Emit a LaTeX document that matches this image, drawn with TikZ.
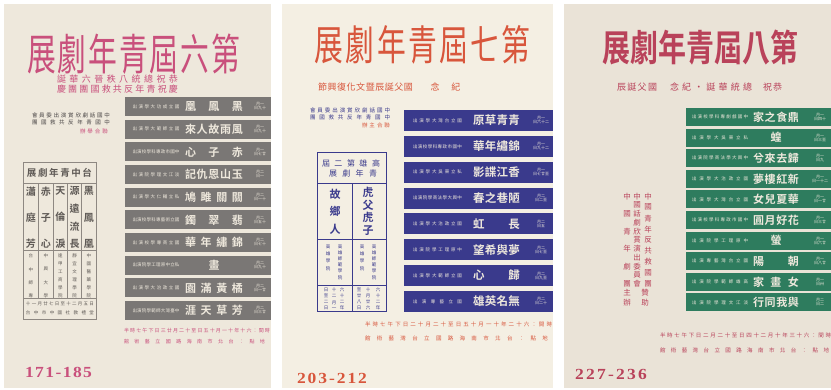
\documentclass[tikz,border=0pt]{standalone}
\usepackage{graphicx}
\usepackage{fontspec}
\setmainfont{Liberation Serif}
\newfontfamily\cjk{Noto Sans CJK TC}
\newfontfamily\cjkb{Noto Sans CJK TC Bold}
\definecolor{bgA}{HTML}{EEE8DC}
\definecolor{bgB}{HTML}{F4EFE3}
\definecolor{bgC}{HTML}{EAE3D7}
\definecolor{pinkA}{HTML}{C9507C}
\definecolor{grayBan}{HTML}{7A7775}
\definecolor{banTxt}{HTML}{EEE8DC}
\definecolor{darkT}{HTML}{4A4646}
\definecolor{tabT}{HTML}{5E5955}
\definecolor{lineA}{HTML}{8E8882}
\definecolor{redB}{HTML}{D8563C}
\definecolor{navy}{HTML}{3A3A8C}
\definecolor{crim}{HTML}{B9425A}
\definecolor{greenC}{HTML}{2E7C5E}
% spread characters across a given width
\def\spr#1#2{\makebox[#1][s]{\expandafter\sprfirst#2\relax}}
\def\sprfirst#1{#1\sprrest}
\def\sprrest#1{\ifx#1\relax\else\hfill#1\expandafter\sprrest\fi}
% vertical text spread across a given height
\def\vspr#1#2{\vbox to #1{\offinterlineskip\expandafter\vsfirst#2\relax}}
\def\vsfirst#1{\hbox to 1em{\hss#1\hss}\vsrest}
\def\vsrest#1{\ifx#1\relax\else\vfill\hbox to 1em{\hss#1\hss}\expandafter\vsrest\fi}
\tikzset{
  txt/.style={inner sep=0pt,outer sep=0pt,anchor=center},
  cj/.style={font=\cjk\fontsize{#1}{#1}\selectfont},
  cjb/.style={font=\cjkb\fontsize{#1}{#1}\selectfont},
  pnum/.style={font=\bfseries\fontsize{14}{14}\selectfont},
}
\begin{document}
\begin{tikzpicture}[x=1pt,y=-1pt]
\useasboundingbox (0,0) rectangle (831,389);
\fill[white] (0,0) rectangle (831,389);
% ---------------- panels
\fill[bgA] (4,4) rectangle (271,388);
\fill[bgB] (282,4) rectangle (553,388);
\fill[bgC] (564,4) rectangle (831,388);

% =============== PANEL 1 (sixth) ===============
\node[txt,cj=36,text=pinkA] (t1) at (133.5,54) {\scalebox{0.8}[1.2]{\spr{266pt}{展劇年青屆六第}}};
\node[txt,cj=9,text=pinkA] (s1a) at (117.5,79) {\spr{121pt}{誕華六晉秩八統總祝恭}};
\node[txt,cj=9,text=pinkA] (s1b) at (117.5,89) {\spr{121pt}{慶團團國救共反年青祝慶}};
\node[txt,cj=5.5,text=darkT] (l1a) at (71,115) {\spr{78pt}{會員委出演賞欣劇話國中}};
\node[txt,cj=5.5,text=darkT] (l1b) at (71,122) {\spr{78pt}{團國救共反年青國中}};
\node[txt,cj=5.5,text=pinkA] (l1c) at (94,131.5) {\spr{28pt}{辦舉合聯}};

\foreach \i/\ti/\sm/\da/\db in {
 0/凰鳳黑/出演學大功成立國/月一/日九十,
 1/來人故雨風/出演學大範師立國/月一/日九十,
 2/心子赤/出演校學科專政市國中/月一/日七廿,
 3/記仇恩山玉/出演院學理文江淡/月二/日一,
 4/鳩雎關關/出演學大仁輔立私/月二/日一十,
 5/鐲翠翡/出演校學科專藝術立國/月二/日五十,
 6/華年繡錦/出演校學專商立國/月二/日七十,
 7/\null 畫\null/出演院學工理原中立私/月二/日九十,
 8/園滿黃橘/出演學大治政立國/月二/日一廿,
 9/涯天草芳/出演院學範師大灣臺中/月二/日三廿}{
 \pgfmathsetmacro\yt{97+22.67*\i}
 \pgfmathsetmacro\yc{\yt+9.5}
 \fill[grayBan] (125,\yt) rectangle (271,\yt+19);
 \node[txt,cjb=11,text=banTxt] (a\i-t) at (214,\yc) {\spr{58pt}{\ti}};
 \node[txt,cj=4.5,text=banTxt] (a\i-s) at (156,\yc) {\spr{47pt}{\sm}};
 \node[txt,cj=4,text=banTxt,align=center] (a\i-d) at (260,\yc) {\da\\\db};
}

% table (Taichung)
\draw[lineA,line width=0.9] (23,162) rectangle (96,319);
\draw[lineA,line width=0.6] (23,183) -- (96,183) (23,250) -- (96,250) (23,298) -- (96,298);
\foreach \xx in {38.3,53.3,67.3,81.7} \draw[lineA,line width=0.6] (\xx,183) -- (\xx,298);
\node[txt,cjb=9.5,text=tabT] (h1) at (59.5,173) {\spr{65pt}{展劇年青中台}};
\foreach \j/\xc/\tt/\sc in {1/30.8/瀟庭芳/台中師專, 2/45.8/赤子心/中興大學, 3/60.3/天倫淚/逢甲工商學院, 4/74.5/源遠流長/靜宜文理學院, 5/88.9/黑鳳凰/中國醫藥學院}{
 \node[txt,cjb=10,text=tabT] (c1-\j) at (\xc,217.5) {\vspr{61pt}{\tt}};
 \node[txt,cj=4.5,text=tabT] (k1-\j) at (\xc,276) {\vspr{44pt}{\sc}};
}
\node[txt,cj=4.5,text=tabT] (d1a) at (60,304) {\spr{68pt}{十一月廿七日至十二月五日}};
\node[txt,cj=4.5,text=tabT] (d1b) at (60,313) {\spr{68pt}{台中市中國社教禮堂}};

\node[txt,cj=5,text=pinkA] (f1a) at (197,331) {\spr{146pt}{半時七午下日三廿月二十至日五十月一十年十六：間時}};
\node[txt,cj=5,text=pinkA] (f1b) at (194.5,342) {\spr{141pt}{館術藝立國路海南市北台：點地}};
\node[txt,pnum,text=pinkA] (p1) at (58.5,372) {\scalebox{1.25}[1.1]{\spr{53.6pt}{171-185}}};

% =============== PANEL 2 (seventh) ===============
\node[txt,cj=36,text=redB] (t2) at (422.5,45) {\scalebox{0.8}[1.15]{\spr{269pt}{展劇年青屆七第}}};
\node[txt,cj=9,text=redB] (s2a) at (365.5,87) {\spr{95pt}{節興復化文暨辰誕父國}};
\node[txt,cj=9,text=redB] (s2b) at (445.5,87) {\spr{30pt}{念紀}};
\node[txt,cj=5.5,text=navy] (l2a) at (350,110) {\spr{80pt}{會員委出演賞欣劇話國中}};
\node[txt,cj=5.5,text=navy] (l2b) at (350,117) {\spr{80pt}{團國救共反年青國中}};
\node[txt,cj=5.5,text=redB] (l2c) at (376,125) {\spr{28pt}{辦主合聯}};

\foreach \i/\ti/\sm/\da/\db in {
 0/原草青青/出演學大灣台立國/月一/日六十二,
 1/華年繡錦/出演校學科專政市國中/月一/日九十二,
 2/影諜江香/出演學大吳東立私/月一/日七廿至,
 3/春之巷陋/出演院學商法學大興中/月二/日二至,
 4/虹長/出演學大治政立國/月二/日五,
 5/望希與夢/出演院學工理原中/月二/日七至,
 6/心歸/出演學大範師立國/月二/日九至,
 7/雄英名無/出演專藝立國/月二/日二十}{
 \pgfmathsetmacro\yt{110+25.85*\i}
 \pgfmathsetmacro\yc{\yt+10.5}
 \fill[navy] (404,\yt) rectangle (553,\yt+21);
 \node[txt,cjb=11.5,text=banTxt] (b\i-t) at (496.5,\yc) {\spr{47pt}{\ti}};
 \node[txt,cj=4.5,text=banTxt] (b\i-s) at (437.5,\yc) {\spr{49pt}{\sm}};
 \node[txt,cj=4,text=banTxt,align=center] (b\i-d) at (541,\yc) {\da\\\db};
}

% table (Kaohsiung)
\draw[navy,line width=0.9] (317,152) rectangle (386,311);
\draw[navy,line width=0.6] (317,183) -- (386,183) (317,239) -- (386,239) (317,285) -- (386,285) (352,183) -- (352,311);
\node[txt,cj=8,text=navy] (h2a) at (351,163) {\spr{58pt}{屆二第雄高}};
\node[txt,cj=8,text=navy] (h2b) at (353,173) {\spr{48pt}{展劇年青}};
\node[txt,cjb=11,text=navy] (c2-1) at (335,211.5) {\vspr{44pt}{故鄉人}};
\node[txt,cjb=11,text=navy] (c2-2) at (368,211) {\vspr{47pt}{虎父虎子}};
\node[txt,cj=4.5,text=navy] (k2-1) at (328,257.5) {\vspr{25.5pt}{高雄學院}};
\node[txt,cj=4.5,text=navy] (k2-2) at (340,262) {\vspr{34.5pt}{高雄師範學院}};
\node[txt,cj=4.5,text=navy] (k2-3) at (362,257.5) {\vspr{25.5pt}{高雄學院}};
\node[txt,cj=4.5,text=navy] (k2-4) at (374,262) {\vspr{34.5pt}{高雄師範學院}};
\foreach \j/\xc/\tt in {1/326/日至二日, 2/334/十二月一, 3/342/六十二年, 4/359/至廿八日, 5/368/十月廿六, 6/378/六十二年}{
 \node[txt,cj=4.5,text=navy] (e2-\j) at (\xc,298.5) {\vspr{21.5pt}{\tt}};
}
\node[txt,cj=5.5,text=redB] (f2a) at (458.5,324) {\spr{187pt}{半時七午下日二十月二十至日五十月一十年二十六：間時}};
\node[txt,cj=5.5,text=redB] (f2b) at (456.5,338) {\spr{183pt}{館術藝灣台立國路海南市北台：點地}};
\node[txt,pnum,text=redB] (p2) at (332,378) {\scalebox{1.25}[1.1]{\spr{56pt}{203-212}}};

% =============== PANEL 3 (eighth) ===============
\node[txt,cjb=35,text=crim] (t3) at (700.5,48) {\scalebox{0.8}[1.05]{\spr{244pt}{展劇年青屆八第}}};
\node[txt,cj=9,text=crim] (s3a) at (637,87) {\spr{40pt}{辰誕父國}};
\node[txt,cj=9,text=crim] (s3b) at (711,87) {\spr{82pt}{念紀•誕華統總}};
\node[txt,cj=9,text=crim] (s3c) at (772.5,87) {\spr{19pt}{祝恭}};

\foreach \i/\ti/\sm/\da/\db in {
 0/家之食鼎/出演校學科專劇戲國中/月一/日四十,
 1/\null 蝗\null/出演學大吳東立私/月一/日三至,
 2/兮來去歸/出演院學商法學大興中/月一/日九,
 3/夢樓紅新/出演學大治政立國/月一/日一十二,
 4/女兒夏華/出演學大灣台立國/月一/日一廿,
 5/圓月好花/出演校學科專政市國中/月一/日三廿,
 6/\null 螢\null/出演院學工理原中/月一/日六廿,
 7/陽朝/出演專藝灣台立國/月一/日八廿,
 8/家畫女/出演院學範師雄高/月一/日卅,
 9/行同我與/出演院學理文江淡/月二/日二}{
 \pgfmathsetmacro\yt{108+20.6*\i}
 \pgfmathsetmacro\yc{\yt+9}
 \fill[greenC] (686,\yt) rectangle (831,\yt+18);
 \node[txt,cjb=11,text=banTxt] (g\i-t) at (776,\yc) {\spr{46pt}{\ti}};
 \node[txt,cj=4.5,text=banTxt] (g\i-s) at (720,\yc) {\spr{56pt}{\sm}};
 \node[txt,cj=4,text=banTxt,align=center] (g\i-d) at (820,\yc) {\da\\\db};
}

\node[txt,cj=7.5,text=crim] (v3a) at (648,240) {\vspr{93.5pt}{中國青年反共救國團}};
\node[txt,cj=7.5,text=crim] (v3b) at (637,240) {\vspr{93.5pt}{中國話劇欣賞演出委員會}};
\node[txt,cj=7.5,text=crim] (v3c) at (627,240) {\vspr{93.5pt}{中國青年劇團}};
\node[txt,cj=7.5,text=crim] (v3d) at (627,297.5) {\vspr{16.5pt}{主辦}};
\node[txt,cj=7.5,text=crim] (v3e) at (645,297.5) {\vspr{16.5pt}{贊助}};

\node[txt,cj=5.5,text=crim] (f3a) at (745.5,335) {\spr{171pt}{半時七午下日二月二十至日四十二月十年三十六：間時}};
\node[txt,cj=5.5,text=crim] (f3b) at (744.5,350) {\spr{169pt}{館術藝灣台立國路海南市北台：點地}};
\node[txt,pnum,text=crim] (p3) at (611,374) {\scalebox{1.25}[1.1]{\spr{57.6pt}{227-236}}};
\end{tikzpicture}
\end{document}
